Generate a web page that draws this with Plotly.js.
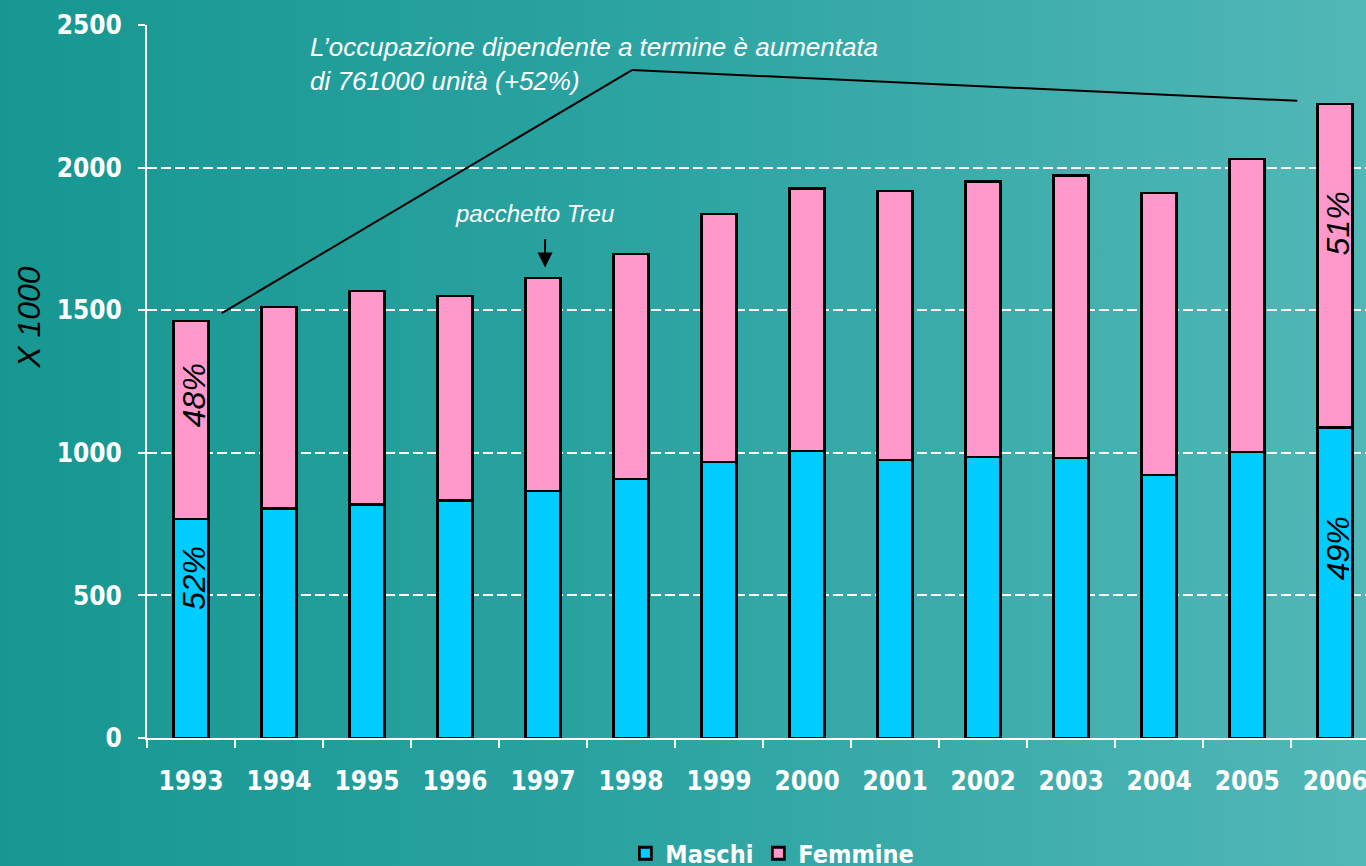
<!DOCTYPE html>
<html>
<head>
<meta charset="utf-8">
<script src="https://cdn.plot.ly/plotly-3.0.1.min.js"></script>
<style>
html,body{margin:0;padding:0;width:1366px;height:866px;overflow:hidden;
background:linear-gradient(90deg,#179792 0%,#2aa3a1 45%,#52b7b7 100%);}
#chart{width:1366px;height:866px;}
</style>
</head>
<body>
<div id="chart"></div>
<script>
// ---- data ----
const years = ['1993','1994','1995','1996','1997','1998','1999','2000','2001','2002','2003','2004','2005','2006'];
const maschi = [768, 806, 820, 834, 866, 908, 968, 1006, 975, 985, 982, 922, 1003, 1090];
const femmine = [694, 705, 747, 716, 747, 789, 869, 922, 943, 965, 989, 989, 1027, 1133];
const seriesNames = ['Maschi', 'Femmine'];
const yTicks = [0, 500, 1000, 1500, 2000, 2500];
const pctLabels = [
  {x: '1993', y: 561, text: '52%'},
  {x: '1993', y: 1202, text: '48%'},
  {x: '2006', y: 666, text: '49%'},
  {x: '2006', y: 1805, text: '51%'}
];
const noteText = 'L’occupazione dipendente a termine è aumentata<br>di 761000 unità (+52%)';
const treuText = 'pacchetto Treu';
const treuYear = '1997';
// leader line vertices (category index, value)
const leaderX = [0.35, 5.01, 12.57];
const leaderY = [1490, 2342, 2234];

const tickFont = {family: '"Liberation Sans Narrow","DejaVu Sans Condensed","Liberation Sans",Arial,sans-serif', size: 26, color: '#ffffff', weight: 'bold'};
const legendFont = {family: tickFont.family, size: 25, color: '#ffffff', weight: 'bold'};

const traces = [
  {type: 'bar', x: years, y: maschi, name: seriesNames[0],
   marker: {color: '#00CCFF', line: {color: '#000000', width: 2.8}}, width: 0.4},
  {type: 'bar', x: years, y: femmine, name: seriesNames[1],
   marker: {color: '#FF99CC', line: {color: '#000000', width: 2.8}}, width: 0.4}
];

const annotations = pctLabels.map(p => ({
  x: years.indexOf(p.x), y: p.y, xref: 'x', yref: 'y', text: p.text, showarrow: false,
  textangle: -90, xshift: 3,
  font: {family: '"Liberation Sans",Arial,sans-serif', size: 32, color: '#000000', style: 'italic'}
}));
annotations.push({
  xref: 'paper', yref: 'paper', x: (308-147)/1219, y: 1.0 + (25-30)/713, xanchor: 'left', yanchor: 'top',
  text: noteText, align: 'left', showarrow: false,
  font: {family: '"Liberation Sans",Arial,sans-serif', size: 26, color: '#ffffff', style: 'italic'}
});
annotations.push({
  x: years.indexOf(treuYear), y: 1650, xref: 'x', yref: 'y', text: '', showarrow: true,
  ax: 0, ay: -30, arrowhead: 2, arrowsize: 1.5, arrowwidth: 2, arrowcolor: '#000000', xshift: 2
});
annotations.push({
  x: years.indexOf(treuYear), y: (738-213)/0.2852, xref: 'x', yref: 'y', text: treuText, showarrow: false, xshift: -9,
  font: {family: '"Liberation Sans",Arial,sans-serif', size: 24, color: '#ffffff', style: 'italic'}
});
annotations.push({
  xref: 'paper', yref: 'paper', x: -0.097, y: (738-317)/713, xanchor: 'center', yanchor: 'middle',
  text: 'X 1000', showarrow: false, textangle: -90,
  font: {family: '"Liberation Sans",Arial,sans-serif', size: 32, color: '#000000', style: 'italic'}
});

const shapes = [];
for (let i = 0; i < leaderX.length - 1; i++) {
  shapes.push({type: 'line', xref: 'x', yref: 'y', x0: leaderX[i], y0: leaderY[i], x1: leaderX[i+1], y1: leaderY[i+1],
    line: {color: '#000000', width: 2}});
}

const layout = {
  width: 1366, height: 866,
  margin: {l: 147, r: 0, t: 25, b: 128, autoexpand: false},
  paper_bgcolor: 'rgba(0,0,0,0)', plot_bgcolor: 'rgba(0,0,0,0)',
  barmode: 'stack',
  showlegend: true,
  legend: {orientation: 'h', x: 0.513, xanchor: 'center', y: -0.162, yanchor: 'middle',
    font: legendFont, bgcolor: 'rgba(0,0,0,0)', traceorder: 'normal'},
  xaxis: {type: 'category', range: [-0.5, 13.35], showgrid: false, zeroline: false,
    showline: true, linecolor: '#ffffff', linewidth: 2,
    ticks: 'outside', tickson: 'boundaries', ticklen: 8, tickcolor: '#ffffff', tickwidth: 2,
    tickfont: tickFont, ticklabelstandoff: 19, fixedrange: true},
  yaxis: {range: [0, 2500], tickvals: yTicks, showgrid: true, gridcolor: '#ffffff', gridwidth: 2,
    griddash: '10px,4px', zeroline: false,
    showline: true, linecolor: '#ffffff', linewidth: 2,
    ticks: 'outside', ticklen: 7, tickcolor: '#ffffff', tickwidth: 2,
    tickfont: tickFont, ticklabelstandoff: 11, fixedrange: true},
  annotations: annotations,
  shapes: shapes,
  font: {family: '"Liberation Sans",Arial,sans-serif'}
};

Plotly.newPlot('chart', traces, layout, {displayModeBar: false, staticPlot: true});
</script>
</body>
</html>
